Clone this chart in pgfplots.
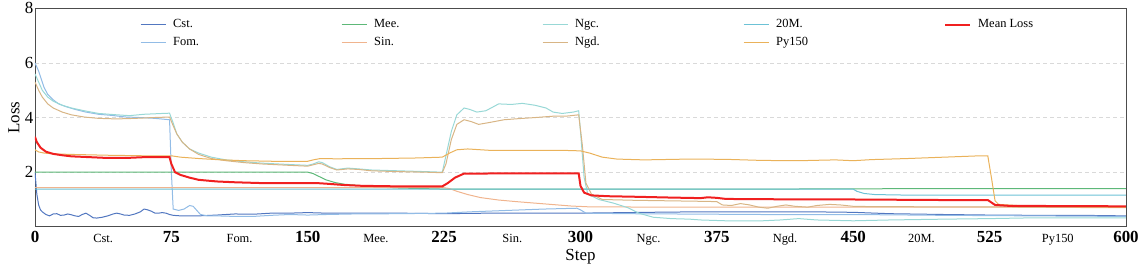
\documentclass[border=0pt]{standalone}
\usepackage{pgfplots}
\pgfplotsset{compat=1.18}
\usepackage{fontspec}
\setmainfont{Liberation Serif}
\definecolor{cCst}{HTML}{5277C0}
\definecolor{cFom}{HTML}{92BCE6}
\definecolor{cMee}{HTML}{5DB878}
\definecolor{cSin}{HTML}{F0B48E}
\definecolor{cNgc}{HTML}{98D8D6}
\definecolor{cNgd}{HTML}{D8B585}
\definecolor{cTwM}{HTML}{6CC2D6}
\definecolor{cPy}{HTML}{EAB25A}
\definecolor{cMean}{HTML}{F02020}
\newcommand\B[1]{{\fontsize{17}{17}\selectfont\bfseries #1}}
\newcommand\LT[1]{\makebox[166bp][l]{#1}}
\tikzset{
  sCst/.style={draw=cCst, line width=1bp},
  sFom/.style={draw=cFom, line width=1bp},
  sMee/.style={draw=cMee, line width=1bp},
  sSin/.style={draw=cSin, line width=1bp},
  sNgc/.style={draw=cNgc, line width=1bp},
  sNgd/.style={draw=cNgd, line width=1bp},
  sTwM/.style={draw=cTwM, line width=1bp},
  sPy/.style={draw=cPy, line width=1bp},
  sMean/.style={draw=cMean, line width=2bp},
}
\begin{document}
\begin{tikzpicture}
\begin{axis}[
  at={(0,0)}, anchor=south west,
  scale only axis, width=1091bp, height=218.5bp,
  xmin=0, xmax=600, ymin=0, ymax=8,
  axis line style={draw=gray!60!black, line width=0.8bp},
  major tick length=0pt,
  ytick={2,4,6,8},
  /pgf/number format/assume math mode=true,
  yticklabel style={font=\fontsize{17}{17}\selectfont, inner xsep=1.5bp},
  xtick={0,37.5,75,112.5,150,187.5,225,262.5,300,337.5,375,412.5,450,487.5,525,562.5,600},
  xticklabels={\B{0},Cst.,\B{75},Fom.,\B{150},Mee.,\B{225},Sin.,\B{300},Ngc.,\B{375},Ngd.,\B{450},20M.,\B{525},Py150,\B{600}},
  xticklabel style={font=\fontsize{12.5}{13}\selectfont, anchor=base, yshift=-16bp},
  ymajorgrids,
  grid style={gray!30, line width=0.6bp, dash pattern=on 4bp off 3bp},
  xlabel={Step}, ylabel={Loss},
  xlabel style={font=\fontsize{17}{17}\selectfont, at={(axis description cs:0.5,0)}, anchor=base, yshift=-34bp},
  ylabel style={font=\fontsize{17}{17}\selectfont, at={(axis description cs:-0.0193,0.5)}, anchor=center},
  legend columns=5,
  legend image code/.code={\draw[#1] (0bp,0bp) -- (25bp,0bp);},
  legend style={draw=none, fill=none, inner sep=0pt, at={(0.0962,0.962)}, anchor=north west,
    font=\fontsize{12.5}{13}\selectfont, row sep=2bp,
    nodes={inner sep=2bp, text height=9bp, text depth=3bp},
    /tikz/every odd column/.append style={column sep=5bp}},
  legend cell align=left,
  no markers,
]
% Cst.
\addplot[sCst, forget plot] coordinates {
(0,2.0) (1,1.2) (2,0.8) (3,0.62) (4,0.55) (6,0.45) (8,0.4) (10,0.47) (12,0.48) (14,0.42) (16,0.43) (18,0.47) (20,0.44) (22,0.4) (24,0.38) (26,0.45) (28,0.5) (30,0.42) (32,0.33) (34,0.32) (37,0.35) (40,0.4) (43,0.47) (45,0.5) (47,0.47) (49,0.43) (52,0.42) (55,0.47) (58,0.55) (60,0.65) (62,0.62) (64,0.57) (66,0.5) (68,0.5) (70,0.52) (72,0.5) (74,0.45) (76,0.42) (80,0.4) (90,0.4) (100,0.43) (110,0.47) (120,0.46) (130,0.5) (140,0.5) (150,0.52) (160,0.5) (175,0.5) (200,0.5) (225,0.48) (250,0.5) (275,0.5) (300,0.5) (325,0.52) (350,0.54) (375,0.55) (400,0.55) (425,0.55) (450,0.53) (470,0.48) (500,0.45) (525,0.43) (550,0.42) (575,0.42) (600,0.4)};
% Fom.
\addplot[sFom, forget plot] coordinates {
(0,6.0) (1,5.85) (2,5.7) (3,5.5) (5,5.1) (7,4.85) (10,4.65) (13,4.5) (17,4.4) (22,4.3) (28,4.2) (35,4.12) (42,4.08) (50,4.02) (58,4.0) (66,3.97) (74,3.92) (75,2.0) (76,0.65) (79,0.6) (82,0.65) (85,0.78) (87,0.75) (89,0.6) (91,0.45) (95,0.4) (100,0.4) (110,0.38) (120,0.38) (130,0.42) (140,0.45) (150,0.43) (160,0.45) (175,0.47) (200,0.48) (225,0.5) (240,0.55) (260,0.6) (280,0.65) (298,0.68) (300,0.62) (303,0.5) (325,0.48) (350,0.47) (375,0.46) (400,0.45) (450,0.45) (500,0.42) (550,0.4) (600,0.38)};
% Mee.
\addplot[sMee, forget plot] coordinates {
(0,2.0) (100,2.0) (150,2.0) (153,1.95) (156,1.85) (160,1.72) (165,1.62) (170,1.56) (180,1.5) (190,1.45) (200,1.42) (225,1.38) (300,1.38) (400,1.38) (500,1.4) (600,1.4)};
% Sin.
\addplot[sSin, forget plot] coordinates {
(0,1.43) (225,1.43) (228,1.4) (232,1.3) (238,1.18) (245,1.07) (255,0.98) (265,0.92) (280,0.84) (295,0.76) (305,0.73) (350,0.72) (450,0.72) (525,0.72) (600,0.7)};
% Ngc.
\addplot[sNgc, forget plot] coordinates {
(0,5.6) (2,5.3) (4,5.0) (7,4.75) (10,4.6) (15,4.45) (20,4.35) (27,4.25) (35,4.15) (45,4.1) (52,4.07) (60,4.12) (70,4.15) (74,4.16) (76,3.8) (78,3.4) (81,3.1) (85,2.85) (90,2.7) (97,2.55) (105,2.45) (115,2.38) (125,2.33) (140,2.28) (150,2.25) (153,2.3) (156,2.38) (158,2.35) (162,2.2) (166,2.1) (172,2.15) (178,2.12) (185,2.08) (200,2.05) (215,2.02) (224,2.0) (226,2.6) (229,3.5) (232,4.1) (236,4.35) (239,4.3) (243,4.2) (248,4.25) (255,4.5) (262,4.48) (268,4.52) (275,4.45) (281,4.35) (285,4.2) (290,4.15) (296,4.2) (299,4.25) (300,3.5) (302,1.8) (304,1.2) (310,1.0) (318,0.87) (326,0.7) (332,0.5) (340,0.35) (350,0.3) (360,0.28) (366,0.25) (380,0.22) (400,0.22) (410,0.25) (420,0.3) (430,0.25) (450,0.22) (470,0.25) (500,0.28) (525,0.3) (550,0.33) (600,0.33)};
% Ngd.
\addplot[sNgd, forget plot] coordinates {
(0,5.3) (2,5.0) (4,4.75) (7,4.5) (10,4.35) (15,4.2) (20,4.1) (27,4.02) (35,3.97) (45,3.95) (55,3.97) (65,4.0) (74,4.02) (76,3.7) (78,3.4) (81,3.1) (85,2.85) (90,2.65) (97,2.5) (105,2.42) (115,2.35) (125,2.3) (140,2.25) (150,2.22) (153,2.27) (156,2.32) (158,2.3) (162,2.17) (166,2.08) (172,2.12) (178,2.1) (185,2.05) (200,2.02) (215,2.0) (224,1.98) (226,2.3) (229,3.2) (232,3.75) (236,3.92) (240,3.85) (244,3.75) (250,3.82) (258,3.92) (266,3.96) (275,4.0) (285,4.05) (292,4.05) (299,4.1) (301,3.0) (303,1.6) (306,1.2) (312,1.0) (330,0.97) (350,0.95) (370,0.93) (375,0.92) (378,0.8) (383,0.78) (388,0.85) (393,0.8) (398,0.72) (403,0.68) (408,0.75) (413,0.8) (418,0.75) (425,0.72) (430,0.78) (437,0.82) (443,0.8) (450,0.75) (460,0.74) (500,0.73) (525,0.73) (550,0.72) (600,0.72)};
% 20M.
\addplot[sTwM, forget plot] coordinates {
(0,1.38) (225,1.38) (450,1.38) (452,1.3) (456,1.22) (462,1.18) (480,1.16) (525,1.16) (600,1.16)};
% Py150
\addplot[sPy, forget plot] coordinates {
(0,2.82) (2,2.74) (5,2.7) (10,2.67) (20,2.65) (40,2.62) (60,2.6) (75,2.6) (80,2.55) (90,2.5) (100,2.46) (115,2.42) (130,2.4) (150,2.4) (153,2.45) (157,2.5) (165,2.49) (190,2.5) (210,2.52) (224,2.55) (228,2.7) (232,2.82) (238,2.85) (250,2.8) (270,2.8) (290,2.8) (300,2.78) (305,2.7) (312,2.55) (320,2.48) (335,2.45) (360,2.48) (380,2.47) (400,2.43) (420,2.42) (440,2.45) (450,2.42) (460,2.46) (480,2.5) (500,2.55) (520,2.6) (524,2.6) (526,1.8) (528,0.95) (530,0.82) (540,0.78) (560,0.74) (600,0.72)};
% Mean Loss
\addplot[sMean, forget plot] coordinates {
(0,3.3) (1,3.1) (3,2.9) (6,2.75) (10,2.67) (15,2.62) (20,2.58) (30,2.55) (40,2.52) (50,2.52) (60,2.55) (70,2.55) (74,2.55) (75,2.3) (77,2.0) (80,1.9) (85,1.8) (90,1.72) (100,1.66) (110,1.63) (125,1.6) (140,1.6) (150,1.6) (155,1.6) (160,1.58) (170,1.53) (180,1.5) (200,1.48) (224,1.48) (227,1.6) (231,1.8) (236,1.95) (245,1.95) (270,1.96) (299,1.96) (300,1.5) (302,1.25) (306,1.15) (315,1.12) (330,1.1) (350,1.07) (366,1.05) (370,1.08) (375,1.06) (380,1.02) (400,1.01) (450,1.0) (500,0.98) (524,0.98) (528,0.8) (535,0.77) (560,0.76) (600,0.75)};
\addlegendimage{sCst}\addlegendentry{\LT{Cst.}}
\addlegendimage{sMee}\addlegendentry{\LT{Mee.}}
\addlegendimage{sNgc}\addlegendentry{\LT{Ngc.}}
\addlegendimage{sTwM}\addlegendentry{\LT{20M.}}
\addlegendimage{sMean}\addlegendentry{Mean Loss}
\addlegendimage{sFom}\addlegendentry{\LT{Fom.}}
\addlegendimage{sSin}\addlegendentry{\LT{Sin.}}
\addlegendimage{sNgd}\addlegendentry{\LT{Ngd.}}
\addlegendimage{sPy}\addlegendentry{\LT{Py150}}
\end{axis}
\pgfresetboundingbox
\useasboundingbox (-35bp,-43.2bp) rectangle (1106bp,226.8bp);
\end{tikzpicture}
\end{document}
